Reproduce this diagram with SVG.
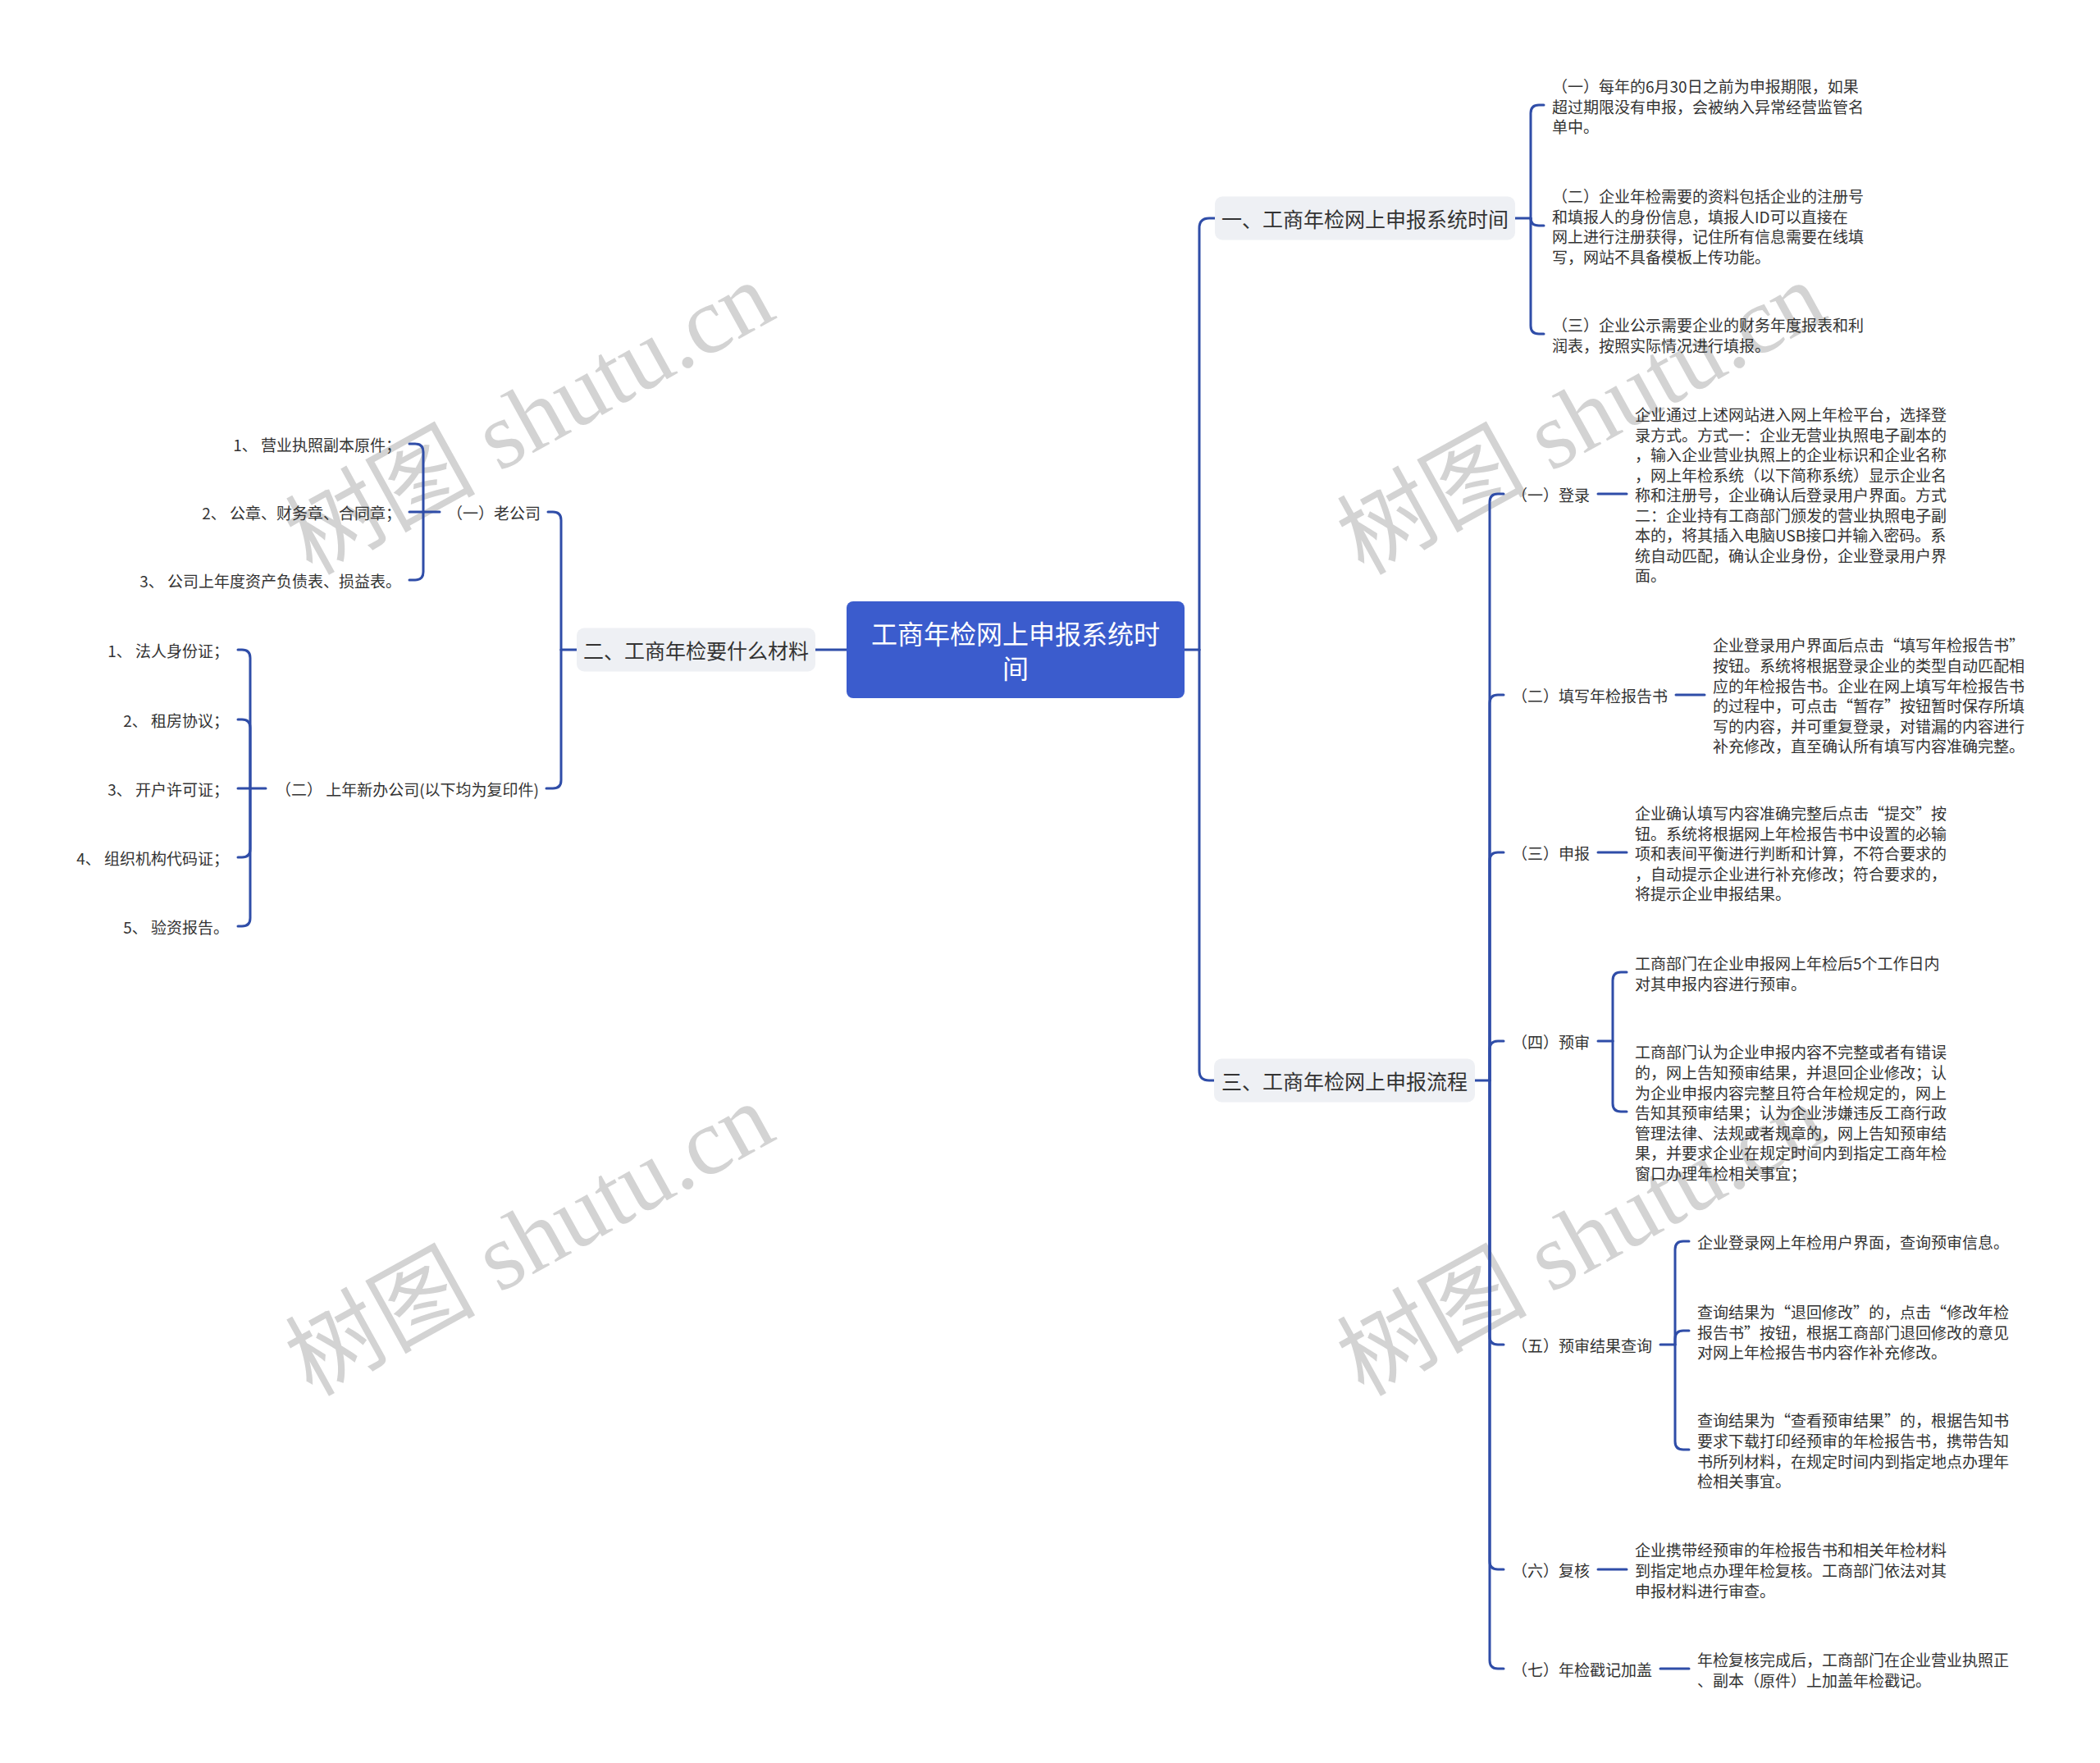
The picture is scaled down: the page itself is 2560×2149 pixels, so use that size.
<svg xmlns="http://www.w3.org/2000/svg" width="2560" height="2149" viewBox="0 0 2560 2149">
<style>
text{font-family:"Noto Sans CJK SC","Noto Sans",sans-serif;dominant-baseline:central;}
.t{font-size:19px;fill:#333333;}
.e{text-anchor:end;}
.sec{font-size:25px;fill:#333333;text-anchor:middle;}
.root{font-size:32px;fill:#ffffff;text-anchor:middle;}
.box{fill:#eef0f4;}
.wm{font-family:"Liberation Serif","Noto Sans CJK SC",serif;font-size:116px;fill:#d3d3d3;dominant-baseline:alphabetic;}
.c path{fill:none;stroke:#2f4da8;stroke-width:3;stroke-linecap:round;}
</style>
<rect width="2560" height="2149" fill="#ffffff"/>
<g id="watermarks">
<text class="wm" transform="translate(380,702) rotate(-29)">树图 shutu.cn</text>
<text class="wm" transform="translate(1662,702) rotate(-29)">树图 shutu.cn</text>
<text class="wm" transform="translate(380,1703) rotate(-29)">树图 shutu.cn</text>
<text class="wm" transform="translate(1662,1703) rotate(-29)">树图 shutu.cn</text>
</g>
<g id="connectors" class="c">
<path d="M1032 792 H994"/>
<path d="M1444 792 H1462"/>
<path d="M1462 792 V278 Q1462 266 1474 266 H1481"/>
<path d="M1462 792 V1305 Q1462 1317 1474 1317 H1480"/>
<path d="M703 792 H684"/>
<path d="M684 792 V634 Q684 624 674 624 H668"/>
<path d="M684 792 V951 Q684 961 674 961 H666"/>
<path d="M536 624 H499"/>
<path d="M516 624 V551 Q516 541 506 541 H499"/>
<path d="M516 624 V697 Q516 707 506 707 H499"/>
<path d="M324 961 H290"/>
<path d="M305 961 V802 Q305 792 295 792 H290"/>
<path d="M305 961 V887 Q305 877 295 877 H290"/>
<path d="M305 961 V1035 Q305 1045 295 1045 H290"/>
<path d="M305 961 V1119 Q305 1129 295 1129 H290"/>
<path d="M1847 266 H1866"/>
<path d="M1866 266 V138 Q1866 128 1876 128 H1882"/>
<path d="M1866 266 Q1866 275 1876 275 H1882"/>
<path d="M1866 266 V397 Q1866 407 1876 407 H1882"/>
<path d="M1798 1317 H1816"/>
<path d="M1816 1317 V612 Q1816 602 1826 602 H1833"/>
<path d="M1816 1317 V857 Q1816 847 1826 847 H1833"/>
<path d="M1816 1317 V1049 Q1816 1039 1826 1039 H1833"/>
<path d="M1816 1317 V1279 Q1816 1269 1826 1269 H1833"/>
<path d="M1816 1317 V1629 Q1816 1639 1826 1639 H1833"/>
<path d="M1816 1317 V1903 Q1816 1913 1826 1913 H1833"/>
<path d="M1816 1317 V2024 Q1816 2034 1826 2034 H1833"/>
<path d="M1948 602 H1983"/>
<path d="M2043 847 H2078"/>
<path d="M1948 1039 H1983"/>
<path d="M1948 1269 H1966"/>
<path d="M1966 1269 V1195 Q1966 1185 1976 1185 H1983"/>
<path d="M1966 1269 V1345 Q1966 1355 1976 1355 H1983"/>
<path d="M2024 1639 H2042"/>
<path d="M2042 1639 V1523 Q2042 1513 2052 1513 H2059"/>
<path d="M2042 1639 V1632 Q2042 1622 2052 1622 H2059"/>
<path d="M2042 1639 V1757 Q2042 1767 2052 1767 H2059"/>
<path d="M1948 1913 H1983"/>
<path d="M2024 2034 H2059"/>
</g>
<g id="root">
<rect x="1032" y="733" width="412" height="118" rx="8" fill="#3b5ccd"/>
<text class="root" x="1238" y="771">工商年检网上申报系统时</text>
<text class="root" x="1238" y="813">间</text>
</g>
<g id="sec1">
<rect class="box" x="1481" y="239.5" width="366" height="53" rx="9"/>
<text class="sec" x="1664" y="266">一、工商年检网上申报系统时间</text>
</g>
<g id="sec2">
<rect class="box" x="703" y="765.5" width="291" height="53" rx="9"/>
<text class="sec" x="848.5" y="792">二、工商年检要什么材料</text>
</g>
<g id="sec3">
<rect class="box" x="1480" y="1290.5" width="318" height="53" rx="9"/>
<text class="sec" x="1639" y="1317">三、工商年检网上申报流程</text>
</g>
<g id="s1c1"><text class="t" x="1892" y="104">（一）每年的6月30日之前为申报期限，如果<tspan x="1892" dy="24.5">超过期限没有申报，会被纳入异常经营监管名</tspan><tspan x="1892" dy="24.5">单中。</tspan></text></g>
<g id="s1c2"><text class="t" x="1892" y="238">（二）企业年检需要的资料包括企业的注册号<tspan x="1892" dy="24.5">和填报人的身份信息，填报人ID可以直接在</tspan><tspan x="1892" dy="24.5">网上进行注册获得，记住所有信息需要在线填</tspan><tspan x="1892" dy="24.5">写，网站不具备模板上传功能。</tspan></text></g>
<g id="s1c3"><text class="t" x="1892" y="395">（三）企业公示需要企业的财务年度报表和利<tspan x="1892" dy="24.5">润表，按照实际情况进行填报。</tspan></text></g>
<g id="s2c1"><text class="t e" x="659" y="624">（一）老公司</text></g>
<g id="s2c1a"><text class="t e" x="489" y="541">1、 营业执照副本原件；</text></g>
<g id="s2c1b"><text class="t e" x="489" y="624">2、 公章、财务章、合同章；</text></g>
<g id="s2c1c"><text class="t e" x="489" y="707">3、 公司上年度资产负债表、损益表。</text></g>
<g id="s2c2"><text class="t e" x="657" y="961">（二） 上年新办公司(以下均为复印件)</text></g>
<g id="s2c2a"><text class="t e" x="279" y="792">1、 法人身份证；</text></g>
<g id="s2c2b"><text class="t e" x="279" y="877">2、 租房协议；</text></g>
<g id="s2c2c"><text class="t e" x="279" y="961">3、 开户许可证；</text></g>
<g id="s2c2d"><text class="t e" x="279" y="1045">4、 组织机构代码证；</text></g>
<g id="s2c2e"><text class="t e" x="279" y="1129">5、 验资报告。</text></g>
<g id="s3c1"><text class="t" x="1843" y="602">（一）登录</text></g>
<g id="s3c1d"><text class="t" x="1993" y="504">企业通过上述网站进入网上年检平台，选择登<tspan x="1993" dy="24.5">录方式。方式一：企业无营业执照电子副本的</tspan><tspan x="1993" dy="24.5">，输入企业营业执照上的企业标识和企业名称</tspan><tspan x="1993" dy="24.5">，网上年检系统（以下简称系统）显示企业名</tspan><tspan x="1993" dy="24.5">称和注册号，企业确认后登录用户界面。方式</tspan><tspan x="1993" dy="24.5">二：企业持有工商部门颁发的营业执照电子副</tspan><tspan x="1993" dy="24.5">本的，将其插入电脑USB接口并输入密码。系</tspan><tspan x="1993" dy="24.5">统自动匹配，确认企业身份，企业登录用户界</tspan><tspan x="1993" dy="24.5">面。</tspan></text></g>
<g id="s3c2"><text class="t" x="1843" y="847">（二）填写年检报告书</text></g>
<g id="s3c2d"><text class="t" x="2088" y="785.75">企业登录用户界面后点击“填写年检报告书”<tspan x="2088" dy="24.5">按钮。系统将根据登录企业的类型自动匹配相</tspan><tspan x="2088" dy="24.5">应的年检报告书。企业在网上填写年检报告书</tspan><tspan x="2088" dy="24.5">的过程中，可点击“暂存”按钮暂时保存所填</tspan><tspan x="2088" dy="24.5">写的内容，并可重复登录，对错漏的内容进行</tspan><tspan x="2088" dy="24.5">补充修改，直至确认所有填写内容准确完整。</tspan></text></g>
<g id="s3c3"><text class="t" x="1843" y="1039">（三）申报</text></g>
<g id="s3c3d"><text class="t" x="1993" y="990">企业确认填写内容准确完整后点击“提交”按<tspan x="1993" dy="24.5">钮。系统将根据网上年检报告书中设置的必输</tspan><tspan x="1993" dy="24.5">项和表间平衡进行判断和计算，不符合要求的</tspan><tspan x="1993" dy="24.5">，自动提示企业进行补充修改；符合要求的，</tspan><tspan x="1993" dy="24.5">将提示企业申报结果。</tspan></text></g>
<g id="s3c4"><text class="t" x="1843" y="1269">（四）预审</text></g>
<g id="s3c4a"><text class="t" x="1993" y="1173">工商部门在企业申报网上年检后5个工作日内<tspan x="1993" dy="24.5">对其申报内容进行预审。</tspan></text></g>
<g id="s3c4b"><text class="t" x="1993" y="1281.5">工商部门认为企业申报内容不完整或者有错误<tspan x="1993" dy="24.5">的，网上告知预审结果，并退回企业修改；认</tspan><tspan x="1993" dy="24.5">为企业申报内容完整且符合年检规定的，网上</tspan><tspan x="1993" dy="24.5">告知其预审结果；认为企业涉嫌违反工商行政</tspan><tspan x="1993" dy="24.5">管理法律、法规或者规章的，网上告知预审结</tspan><tspan x="1993" dy="24.5">果，并要求企业在规定时间内到指定工商年检</tspan><tspan x="1993" dy="24.5">窗口办理年检相关事宜；</tspan></text></g>
<g id="s3c5"><text class="t" x="1843" y="1639">（五）预审结果查询</text></g>
<g id="s3c5a"><text class="t" x="2069" y="1513">企业登录网上年检用户界面，查询预审信息。</text></g>
<g id="s3c5b"><text class="t" x="2069" y="1598">查询结果为“退回修改”的，点击“修改年检<tspan x="2069" dy="24.5">报告书”按钮，根据工商部门退回修改的意见</tspan><tspan x="2069" dy="24.5">对网上年检报告书内容作补充修改。</tspan></text></g>
<g id="s3c5c"><text class="t" x="2069" y="1730.5">查询结果为“查看预审结果”的，根据告知书<tspan x="2069" dy="24.5">要求下载打印经预审的年检报告书，携带告知</tspan><tspan x="2069" dy="24.5">书所列材料，在规定时间内到指定地点办理年</tspan><tspan x="2069" dy="24.5">检相关事宜。</tspan></text></g>
<g id="s3c6"><text class="t" x="1843" y="1913">（六）复核</text></g>
<g id="s3c6d"><text class="t" x="1993" y="1888.5">企业携带经预审的年检报告书和相关年检材料<tspan x="1993" dy="24.5">到指定地点办理年检复核。工商部门依法对其</tspan><tspan x="1993" dy="24.5">申报材料进行审查。</tspan></text></g>
<g id="s3c7"><text class="t" x="1843" y="2034">（七）年检戳记加盖</text></g>
<g id="s3c7d"><text class="t" x="2069" y="2022">年检复核完成后，工商部门在企业营业执照正<tspan x="2069" dy="24.5">、副本（原件）上加盖年检戳记。</tspan></text></g>
</svg>
